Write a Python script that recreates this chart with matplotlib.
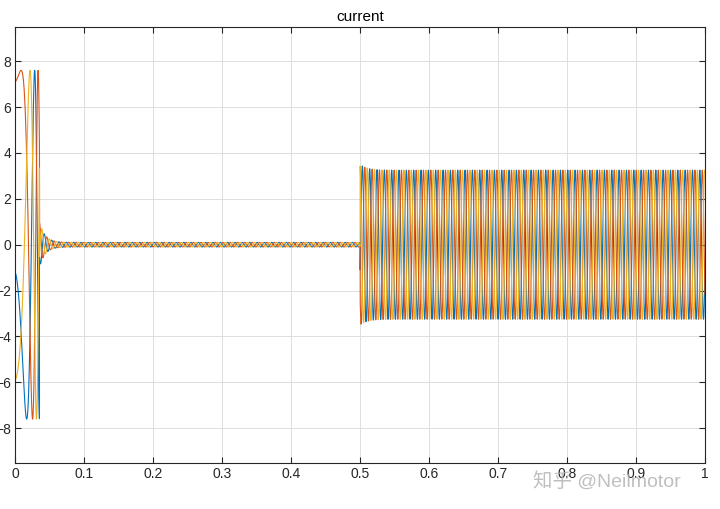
import numpy as np
from matplotlib import pyplot as plt

phase_names = ['A', 'B', 'C']
phase_colors = ['#0072BD', '#D95319', '#EDB120']
phase_shift = [2 * np.pi / 3, 0.0, -2 * np.pi / 3]

# startup: big swing, phase angle at a few times (accelerating rotor)
startup_t = [0.0, 0.0083, 0.025, 0.033]
startup_angle = [-0.364, 0.0, np.pi, 2 * np.pi]
startup_amp = 7.6
startup_end = 0.035

# no-load ripple after startup
ripple_amp0 = 1.0
ripple_amp = 0.1
ripple_tau = 0.008

# load step at 0.5 s
step_time = 0.5
step_angle = 2.3
load_amp = 3.25
load_overshoot = 0.25
load_tau = 0.01
freq = 94.0

xticks = [0, 0.1, 0.2, 0.3, 0.4, 0.5, 0.6, 0.7, 0.8, 0.9, 1]
xticklabels = ['0', '0.1', '0.2', '0.3', '0.4', '0.5', '0.6', '0.7', '0.8', '0.9', '1']
yticks = [-8, -6, -4, -2, 0, 2, 4, 6, 8]

t = np.linspace(0, 1, 40001)

# angle during startup from a cubic through the read points
coef = np.polyfit(startup_t, startup_angle, 3)
theta_start = np.polyval(coef, t)
theta_run = 2 * np.pi * freq * (t - startup_end)
theta_load = step_angle + 2 * np.pi * freq * (t - step_time)

env_ripple = ripple_amp + (ripple_amp0 - ripple_amp) * np.exp(-(t - startup_end) / ripple_tau)
env_load = load_amp + load_overshoot * np.exp(-(t - step_time) / load_tau)

plt.rcParams['font.family'] = ['Liberation Sans', 'Noto Sans CJK SC', 'DejaVu Sans']
fig = plt.figure(figsize=(7.2, 5.09), dpi=100)
ax = fig.add_axes([0.0213, 0.091, 0.9578, 0.8565])

for name, c, sh in zip(phase_names, phase_colors, phase_shift):
    i = np.where(t < startup_end, startup_amp * np.cos(theta_start + sh),
                 np.where(t < step_time, env_ripple * np.cos(theta_run + sh),
                          env_load * np.cos(theta_load + sh)))
    ax.plot(t, i, color=c, lw=0.8, label=name)

ax.set_xlim(0, 1)
ax.set_ylim(-9.5, 9.5)
ax.set_xticks(xticks)
ax.set_xticklabels(xticklabels)
ax.set_yticks(yticks)
ax.grid(True, color='#dedede', lw=0.7)
ax.set_axisbelow(True)
ax.tick_params(direction='in', top=True, right=True, length=4, width=0.8,
               labelsize=10, colors='#262626', pad=3)
for s in ax.spines.values():
    s.set_color('#262626')
    s.set_linewidth(0.8)
ax.set_title('current', fontsize=11, pad=4)

fig.text(0.74, 0.054, '知乎 @Neilmotor', fontsize=14, color='#b0b0b0',
         alpha=0.8, va='center', ha='left')

plt.savefig('out.png', dpi=100)
